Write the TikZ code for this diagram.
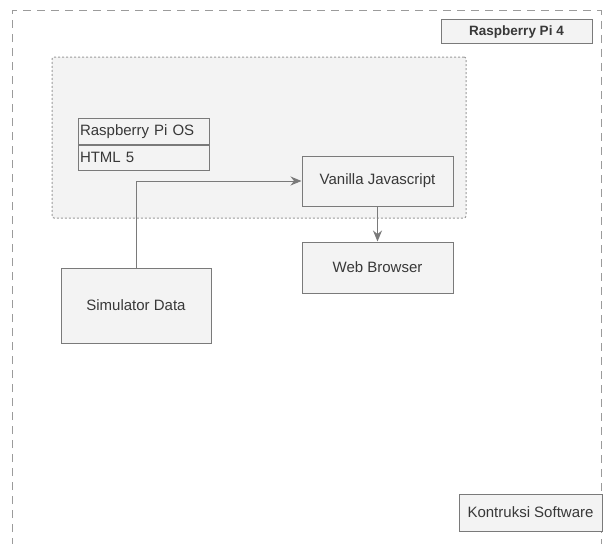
\documentclass[tikz,border=0pt]{standalone}
\usepackage{fontspec}
\setmainfont{Liberation Sans}
\usepackage{tikz}
\usetikzlibrary{positioning,arrows.meta}

\definecolor{boxfill}{HTML}{F3F3F3}
\definecolor{boxline}{HTML}{7A7A7A}
\definecolor{txt}{HTML}{383838}

\begin{document}
\begin{tikzpicture}[x=1pt, y=-1pt, thin,
    every node/.style={font=\fontsize{15}{17}\selectfont, text=txt},
    main box/.style={draw=boxline, fill=boxfill, line width=1pt, inner sep=0pt},
    row box/.style={draw=boxline, fill=boxfill, line width=1pt, inner sep=1.5pt,
      minimum width=131pt, minimum height=25.5pt, text width=128pt, align=left, anchor=north west},
    link/.style={draw=boxline, line width=1pt, -{Stealth[length=11pt,width=9pt]}}]

    \useasboundingbox (0,0) rectangle (604,543);

    % outer frame
    \draw[boxline!75, line width=1pt, dash pattern=on 8pt off 6pt] (12,560) -- (12,11) -- (601,11) -- (601,560);
    \node[main box, minimum width=151pt, minimum height=24pt, font=\fontsize{13.5}{15}\selectfont\bfseries] (pi4) at (516.5,32) {Raspberry Pi 4};

    % software container
    \node[draw=boxline!75, fill=boxfill, line width=1pt, dash pattern=on 2pt off 2pt, rounded corners=2pt,
      minimum width=414pt, minimum height=161pt] (container) at (259,137.5) {};

    \node[row box] (piOS) at (78,118) {Raspberry Pi OS};
    \node[row box, anchor=north west] (html) at (piOS.south west) {HTML 5};

    \node[main box, minimum width=151pt, minimum height=50pt] (vanilla) at (377.5,181) {Vanilla Javascript};
    \node[main box, minimum width=151pt, minimum height=51pt] (browser) at (377.5,267.5) {Web Browser};
    \node[main box, minimum width=150pt, minimum height=75pt] (simulator) at (136,305.5) {Simulator Data};

    \node[main box, minimum width=143pt, minimum height=37pt] (konstruksi) at (530.5,512.5) {Kontruksi Software};

    \draw[link] (simulator.north) |- (vanilla.west);
    \draw[link] (vanilla.south) -- (browser.north);
\end{tikzpicture}
\end{document}
